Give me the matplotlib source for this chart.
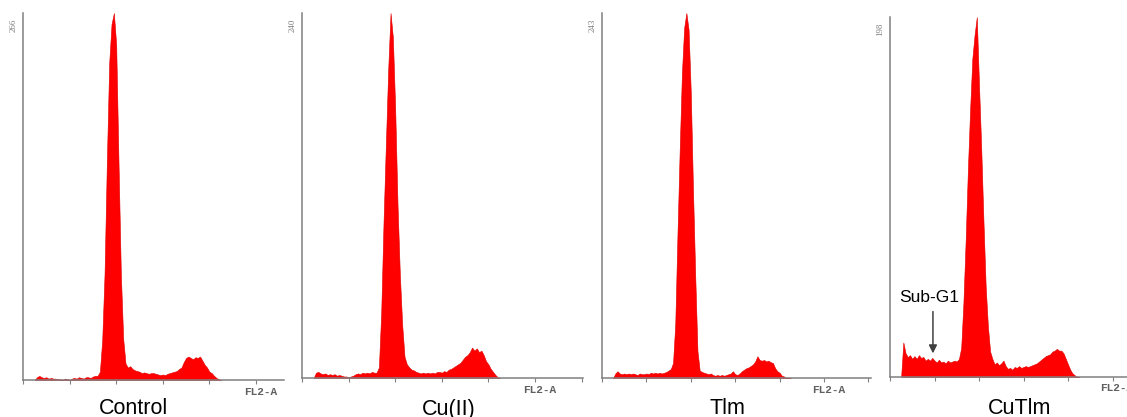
import matplotlib
matplotlib.use("Agg")
import matplotlib.pyplot as plt
import numpy as np

# FL2-A channel bins (10-channel bins, 50..850)
channels = np.arange(50, 860, 10)

control = [0, 2, 3, 2, 1.5, 2, 1, 1.5, 1, 1,
           0.5, 0.5, 0, 1, 0.5, 0, 1, 1.5, 1, 2,
           1.5, 1, 2, 2, 1.5, 2.5, 3, 3, 6, 29,
           77, 159, 230, 258, 266, 243, 157, 77, 30, 12,
           9, 10, 8, 7, 6.5, 6, 5, 5.5, 5, 4.5,
           5, 5, 4.5, 4, 3.5, 4, 3.5, 4.5, 5, 5.5,
           6, 6.5, 8, 9, 13, 16, 17, 16, 15, 16.5,
           16, 17, 14, 11, 9, 6, 5, 3, 1.5, 0.5, 0]

cu_ii = [0, 3.5, 4, 3, 2.5, 3, 2, 2.5, 2, 2.5,
         1.5, 2, 1.5, 1, 1, 0.5, 1, 1.5, 2.5, 3,
         2.5, 3.5, 3, 3.5, 3, 4, 3.5, 3.5, 7, 43,
         103, 154, 203, 240, 224, 177, 114, 68, 35, 14,
         9, 7, 5.5, 5, 4, 3.5, 3, 3.5, 3, 3.5,
         3, 3.5, 3, 4, 4, 3.5, 4.5, 4, 5.5, 6,
         7, 8, 9, 10, 12, 14, 15, 17, 20, 18,
         19.5, 17, 18, 15, 11, 9, 6, 4, 2, 0.5, 0]

tlm = [0, 3, 4.5, 3, 2.5, 3, 2.5, 3, 2.5, 3,
       2.5, 2, 3, 2.5, 2.5, 3, 2.5, 3.5, 3, 3.5,
       3, 3.5, 3, 3.5, 4, 5, 6, 10, 36, 96,
       152, 203, 233, 243, 232, 190, 125, 68, 18, 5,
       4, 3.5, 3, 2.5, 3, 2, 1.5, 2, 1.5, 2,
       1.5, 2, 2.5, 3, 4.5, 2.5, 2, 3, 4.5, 5.5,
       6.5, 7, 8, 9, 11, 14.5, 12, 11.5, 12, 11,
       11.5, 10.5, 10, 6.5, 4.5, 3.5, 1.5, 1, 0, 0, 0]

cutlm = [0, 19, 13, 11, 12, 10, 11.5, 10, 12, 10.5,
         11, 9, 10, 9, 10.5, 9, 8, 9.5, 8, 8.5,
         7.5, 9, 8, 8.5, 9, 8.5, 10, 16, 41, 75,
         114, 147, 175, 188, 198, 161, 126, 86, 50, 28,
         14, 10, 7, 8, 6.5, 7.5, 9, 6, 4.5, 5,
         4, 5.5, 5, 6, 5, 5.5, 6, 5.5, 6, 6.5,
         7, 7.5, 8.5, 9.5, 10.5, 11.5, 12, 12.5, 14, 14.5,
         15.5, 14.5, 14.5, 13, 10, 7, 4, 2, 1, 0, 0]

names = ["Control", "Cu(II)", "Tlm", "CuTlm"]
series = [control, cu_ii, tlm, cutlm]
y_max = [266, 240, 243, 198]

W, H = 1127, 417
fig = plt.figure(figsize=(W / 100, H / 100), dpi=100)

# panel geometry in pixels
left_px = [23, 302, 602, 890]
bottom_px = [380, 378, 378, 377]
top_px = [13, 13, 13, 17]
px_per_200 = [46.6, 46.6, 44.4, 44.5]
x_max = [1120, 1205, 1210, 1210]
name_x_px = [133, 449, 727, 1020]

grey = "#808080"

for i in range(4):
    w = x_max[i] / 200 * px_per_200[i]
    h = bottom_px[i] - top_px[i]
    ax = fig.add_axes([left_px[i] / W, (H - bottom_px[i]) / H, w / W, h / H])
    ax.fill_between(channels, series[i], 0, color="#ff0000", lw=0.4, edgecolor="#e00000")
    ax.set_xticks(np.arange(0, 1201, 200))
    ax.set_xticklabels([])
    ax.set_yticks([])
    ax.set_xlim(0, x_max[i])
    ax.set_ylim(0, y_max[i])
    for s in ["top", "right"]:
        ax.spines[s].set_visible(False)
    for s in ["left", "bottom"]:
        ax.spines[s].set_color(grey)
        ax.spines[s].set_linewidth(1.1)
    ax.tick_params(axis="x", direction="out", length=3, width=0.8, color=grey)
    ax.patch.set_alpha(0)

    # y max label (rotated) and FL2-A label
    fig.text((left_px[i] - 9.5) / W, (H - top_px[i] - 6) / H, str(y_max[i]),
             rotation=90, ha="center", va="top", fontsize=6.5,
             family="Liberation Serif", color=grey)
    ax.text(1020, -0.018 * y_max[i], "FL2-A", ha="center", va="top",
            fontsize=8, family="Liberation Mono", color="#606060",
            fontweight="bold", clip_on=False)

    fig.text(name_x_px[i] / W, (H - 414.5) / H, names[i], ha="center",
             va="baseline", fontsize=15.5, family="Liberation Sans", color="black")

    if names[i] == "CuTlm":
        ax.annotate("", xy=(193, 13), xytext=(193, 36),
                    arrowprops=dict(arrowstyle="-|>", color="#404040", lw=1.1,
                                    mutation_scale=12, shrinkA=0, shrinkB=0))
        ax.text(177, 41, "Sub-G1", ha="center", va="baseline", fontsize=12.5,
                family="Liberation Sans", color="black")

fig.savefig("out.png", dpi=100)
